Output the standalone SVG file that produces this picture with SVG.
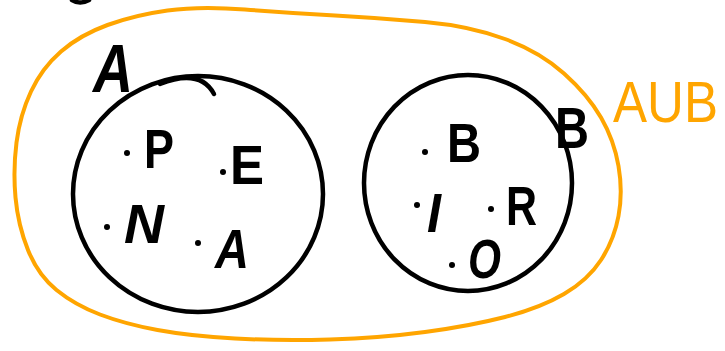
<svg xmlns="http://www.w3.org/2000/svg" width="725" height="351" viewBox="0 0 725 351">
<style>
.set{fill:none;stroke:#000;stroke-width:4.5;stroke-linecap:round}
.union{fill:none;stroke:#ffa500;stroke-width:4;stroke-linejoin:round}
.el{font-family:"Liberation Sans",Arial,sans-serif;font-size:56px;fill:#000;font-weight:bold}
.lbl{font-family:"Liberation Sans",Arial,sans-serif;fill:#000;font-weight:bold}
.ulbl{font-family:"Liberation Sans",Arial,sans-serif;fill:#ffa500;font-size:58px}
.dot{fill:#000}
</style>
<rect width="725" height="351" fill="#fff"/>
<path d="M72 0 Q80 5 89 0" class="set"/>
<g id="union">
<path class="union" d="M 245 9.5 Q 290 13 335 15.5 Q 380 18 425 22 Q 470 26 505 39 Q 540 52 564 73.5 Q 588 95 601 117.5 Q 614 140 618.5 166 Q 623 192 618.5 216 Q 614 240 601 260 Q 588 280 564 294 Q 540 308 505 317 Q 470 326 425 332 Q 380 338 330 339.5 Q 280 341 235 338.5 Q 190 336 157.5 330 Q 125 324 100 314.5 Q 75 305 56.5 290 Q 38 275 28 250 Q 18 225 15.5 197.5 Q 13 170 16.5 142.5 Q 20 115 31 91.5 Q 42 68 61 51.5 Q 80 35 107.5 25 Q 135 15 167.5 10.5 Q 200 6 245 9.5 Z"/>
<text class="ulbl" transform="translate(613 122) scale(0.88 1)">AUB</text>
</g>
<g id="setA">
<ellipse class="set" cx="198" cy="194" rx="125" ry="118"/>
<path class="set" d="M160 84 Q200 68 214 94"/>
<text class="lbl" x="93" y="92" font-size="68" font-style="italic" textLength="40" lengthAdjust="spacingAndGlyphs">A</text>
<circle class="dot" cx="127" cy="153" r="3"/>
<text class="el" x="144" y="168" textLength="30" lengthAdjust="spacingAndGlyphs">P</text>
<circle class="dot" cx="223" cy="172" r="3"/>
<text class="el" x="230" y="184" font-size="48" textLength="34" lengthAdjust="spacingAndGlyphs">E</text>
<circle class="dot" cx="107" cy="227" r="3"/>
<text class="el" x="124" y="243" font-style="italic" textLength="40" lengthAdjust="spacingAndGlyphs">N</text>
<circle class="dot" cx="198" cy="243" r="3"/>
<text class="el" x="215" y="268" font-size="60" font-style="italic" textLength="34" lengthAdjust="spacingAndGlyphs">A</text>
</g>
<g id="setB">
<ellipse class="set" cx="468" cy="183" rx="104" ry="108"/>
<text class="lbl" x="555" y="148" font-size="58" textLength="34" lengthAdjust="spacingAndGlyphs">B</text>
<circle class="dot" cx="425" cy="152" r="3"/>
<text class="el" x="447" y="162" font-size="58" textLength="34" lengthAdjust="spacingAndGlyphs">B</text>
<circle class="dot" cx="417" cy="205" r="3"/>
<text class="el" x="427" y="232" font-size="60" font-style="italic" textLength="14" lengthAdjust="spacingAndGlyphs">I</text>
<circle class="dot" cx="491" cy="209" r="3"/>
<text class="el" x="506" y="225" font-size="52" textLength="31" lengthAdjust="spacingAndGlyphs">R</text>
<circle class="dot" cx="452" cy="265" r="3"/>
<text class="el" x="468" y="278" font-size="42" font-style="italic" textLength="33" lengthAdjust="spacingAndGlyphs">O</text>
</g>
</svg>
